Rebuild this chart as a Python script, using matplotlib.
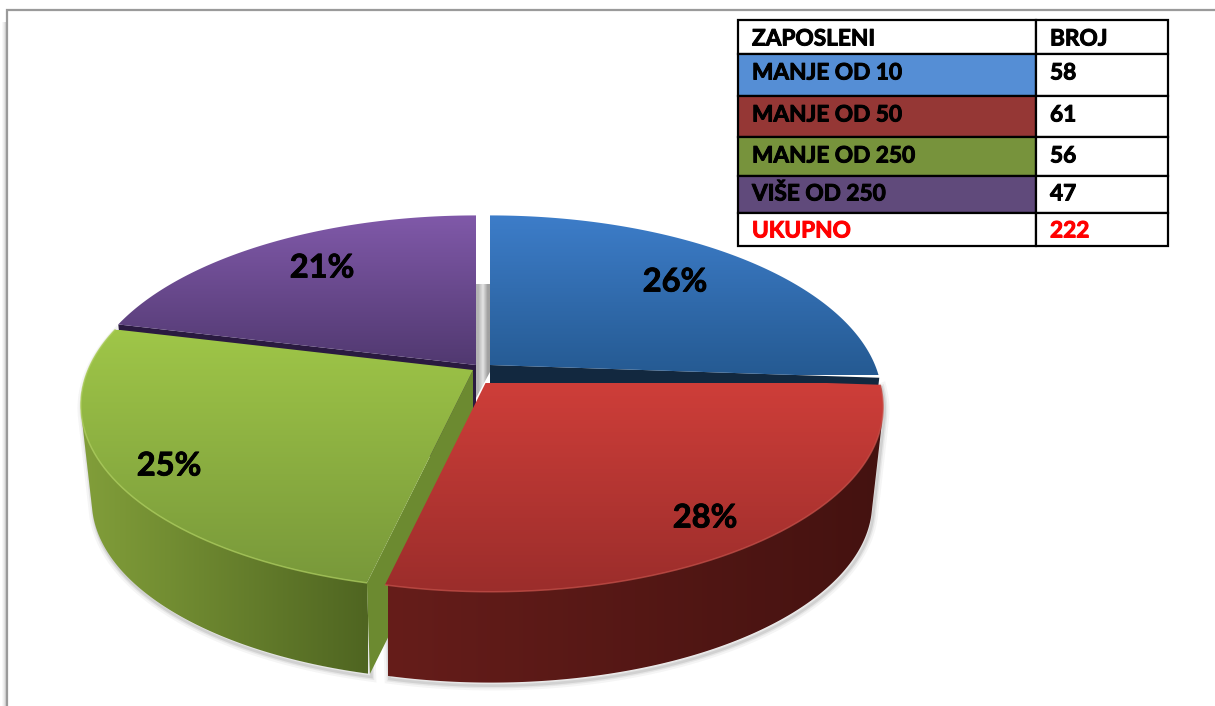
import numpy as np
import matplotlib
matplotlib.use("Agg")
import matplotlib.pyplot as plt
import matplotlib.patheffects as pe
from matplotlib.patches import Polygon, Rectangle
from matplotlib.colors import to_rgb

# ---- data ----
categories = ["MANJE OD 10", "MANJE OD 50", "MANJE OD 250", "VIŠE OD 250"]
counts = [58, 61, 56, 47]
percent_labels = ["26%", "28%", "25%", "21%"]
total_label = "UKUPNO"
total_value = 222
header = ["ZAPOSLENI", "BROJ"]
swatches = ["#558ED5", "#953735", "#77933C", "#604A7B"]

# ---- style of the pseudo-3D pie ----
apex = [(490, 365), (491, 372), (473, 370), (476, 365)]      # exploded slice positions
top_grad = [("#3D7DC9", "#255A92"), ("#CE3E39", "#9B2D2B"),
            ("#9FC648", "#78983A"), ("#8059A9", "#50386F")]
top_span = [(215, 375), (383, 592), (330, 585), (215, 368)]
wall_grad = [None, ("#661D1A", "#441210"), ("#829F3A", "#4F6521"), None]
wall_span = [None, (388, 882), (80, 368), None]
cut_col = ["#12283F", None, "#6C8A30", "#2A1A40"]
cut_edge = [1, None, 0, 0]        # 0: slice's first edge, 1: its last edge
rim_col = [None, "#C9544D", "#B2D264", None]
label_pos = [(675, 280), (705, 516), (169, 464), (322, 266)]

RX, RY, K = 385.0, 178.0, 0.19
DEPTH_S, DEPTH_D = 0.972, 97.0

plt.rcParams["font.family"] = ["Lato", "DejaVu Sans"]
fig = plt.figure(figsize=(12.15, 7.06), dpi=100, facecolor="white")
ax = fig.add_axes([0, 0, 1, 1])


def project(theta, r, c, bottom=False):
    u, v = r * np.sin(theta), r * np.cos(theta)
    w = 1 + K * v
    x, y = RX * u / w, -RY * v / w
    if bottom:
        return c[0] + DEPTH_S * x, c[1] + DEPTH_S * y + DEPTH_D
    return c[0] + x, c[1] + y


def hull(pts):
    pts = sorted(set(map(tuple, pts)))
    def half(seq):
        out = []
        for p in seq:
            while len(out) > 1 and ((out[-1][0] - out[-2][0]) * (p[1] - out[-2][1]) -
                                    (out[-1][1] - out[-2][1]) * (p[0] - out[-2][0])) <= 0:
                out.pop()
            out.append(p)
        return out[:-1]
    return np.array(half(pts) + half(pts[::-1]))


def gradient(poly, c0, c1, span, horizontal=False, z=1):
    a, b = np.array(to_rgb(c0)), np.array(to_rgb(c1))
    t = np.linspace(0, 1, 256)[:, None]
    g = a * (1 - t) + b * t
    lo, hi = poly.min(axis=0), poly.max(axis=0)
    if horizontal:
        img = g[None, :, :]
        ext = (span[0], span[1], hi[1] + 2, lo[1] - 2)
    else:
        img = g[:, None, :]
        ext = (lo[0] - 2, hi[0] + 2, span[1], span[0])
    im = ax.imshow(img, extent=ext, aspect="auto", zorder=z, interpolation="bilinear")
    patch = Polygon(poly, closed=True, fc="none", ec="none")
    ax.add_patch(patch)
    im.set_clip_path(patch)
    return im


fracs = np.array(counts) / sum(counts)
edges = np.concatenate([[0], np.cumsum(fracs)]) * 2 * np.pi

# page frame
ax.plot([1215, 7, 7], [10, 10, 706], color="#9A9A9A", lw=1.6, zorder=0.5, solid_joinstyle="miter")
for i, a in enumerate([0.05, 0.07, 0.10, 0.16]):
    ax.add_patch(Rectangle((2 + i, 22), 4 - i, 684, fc="#808080", ec="none", alpha=a, zorder=0.4))

# grey gap behind the exploded slices
gap = np.array([(476, 284), (490, 284), (490, 372), (476, 398)], float)
img = np.array([[to_rgb("#B4B4B4"), to_rgb("#E4E4E4"), to_rgb("#A0A0A0")]])
gim = ax.imshow(img, extent=(476, 490, 398, 284), aspect="auto", zorder=1, interpolation="bilinear")
gp = Polygon(gap, closed=True, fc="none", ec="none")
ax.add_patch(gp)
gim.set_clip_path(gp)

# draw order: back slices first, then green, then red
for z0, i in zip([2, 3, 5, 7], [0, 3, 2, 1]):
    c = apex[i]
    th = np.linspace(edges[i], edges[i + 1], 240)
    tx, ty = project(th, 1.0, c)
    bx, by = project(th, 1.0, c, bottom=True)
    top = np.column_stack([np.r_[c[0], tx], np.r_[c[1], ty]])

    if wall_grad[i] is not None:
        wall = hull(np.vstack([np.column_stack([tx, ty]), np.column_stack([bx, by])]))
        for lw, a in [(7, 0.05), (4, 0.08), (2, 0.12)]:
            ax.add_patch(Polygon(wall + np.array([1.5, 3]), closed=True, fc="none", ec="#404040",
                                 lw=lw, alpha=a, zorder=1.5))
        gradient(wall, wall_grad[i][0], wall_grad[i][1], wall_span[i], horizontal=True, z=z0)

    if cut_col[i] is not None:
        th_cut = edges[i + cut_edge[i]]
        r = np.array([0.0, 1.0])
        x0, y0 = project(np.full(2, th_cut), r, c)
        x1, y1 = project(np.full(2, th_cut), r, c, bottom=True)
        ax.add_patch(Polygon(np.column_stack([np.r_[x0, x1[::-1]], np.r_[y0, y1[::-1]]]),
                             closed=True, fc=cut_col[i], ec="none", zorder=z0 + 0.2))

    gradient(top, top_grad[i][0], top_grad[i][1], top_span[i], z=z0 + 0.5)

    if rim_col[i] is not None:
        ax.plot(tx, ty, color=rim_col[i], lw=1.1, alpha=0.7, zorder=z0 + 0.6, solid_capstyle="butt")

# percent labels
for lab, p in zip(percent_labels, label_pos):
    ax.text(p[0], p[1] + 11.5, lab, ha="center", va="baseline",
            fontsize=23.5, fontweight="bold", color="black", zorder=12,
            path_effects=[pe.withStroke(linewidth=0.6, foreground="black")])

# table
col_x = [737.5, 1036, 1168]
row_y = [20, 53.5, 96, 137, 176, 213, 246]
txt_y = [38, 72, 114, 155, 193, 230]
rows = [(header[0], str(header[1]), None, "black")]
rows += [(n, str(v), s, "black") for n, v, s in zip(categories, counts, swatches)]
rows += [(total_label, str(total_value), None, "#FF0000")]
for k, (name, val, fill, col) in enumerate(rows):
    y0, y1 = row_y[k], row_y[k + 1]
    ax.add_patch(Rectangle((col_x[0], y0), col_x[1] - col_x[0], y1 - y0,
                           fc=fill if fill else "white", ec="black", lw=1.6, zorder=13))
    ax.add_patch(Rectangle((col_x[1], y0), col_x[2] - col_x[1], y1 - y0,
                           fc="white", ec="black", lw=1.6, zorder=13))
    stroke = [pe.withStroke(linewidth=0.7, foreground=col)]
    ax.text(752, txt_y[k] + 7.5, name, ha="left", va="baseline", fontsize=16.3,
            fontweight="bold", color=col, zorder=14, path_effects=stroke)
    ax.text(1050, txt_y[k] + 7.5, val, ha="left", va="baseline", fontsize=16.3,
            fontweight="bold", color=col, zorder=14, path_effects=stroke)

ax.set_xlim(0, 1215)
ax.set_ylim(706, 0)
ax.axis("off")
fig.savefig("out.png", dpi=100, facecolor="white")
